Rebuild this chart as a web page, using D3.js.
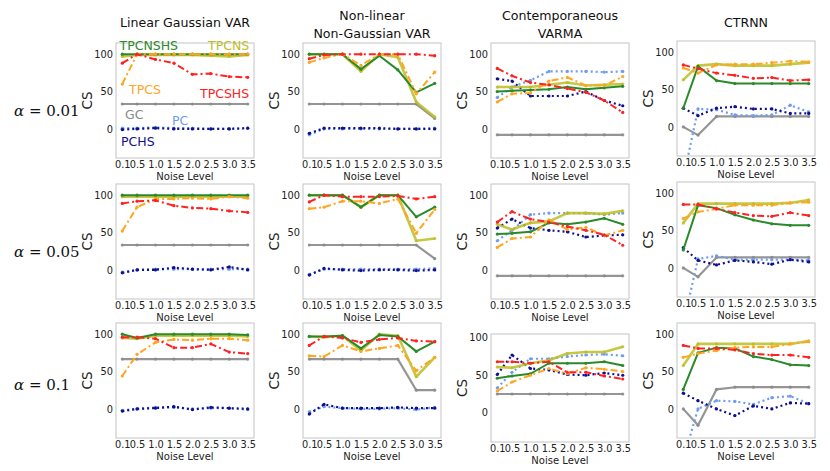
<!DOCTYPE html>
<html><head><meta charset="utf-8">
<script src="https://cdn.jsdelivr.net/npm/d3@7"></script>
<style>body{margin:0;background:#fff}svg{display:block}</style>
</head><body>
<script>
// ---------------- DATA ----------------
const noiseLevels = [0.1, 0.5, 1.0, 1.5, 2.0, 2.5, 3.0, 3.5];
const noiseTickLabels = ["0.1", "0.5", "1.0", "1.5", "2.0", "2.5", "3.0", "3.5"];
const datasetTitles = [["Linear Gaussian VAR"], ["Non-linear", "Non-Gaussian VAR"], ["Contemporaneous", "VARMA"], ["CTRNN"]];
const alphaLabels = ["0.01", "0.05", "0.1"];
const csTicks = [0, 50, 100];
const seriesNames = ["GC", "PC", "PCHS", "TPCNS", "TPCNSHS", "TPCS", "TPCSHS"];

// values per panel: rows = alpha (0.01, 0.05, 0.1), cols = dataset
const gcValues = [
  [[33.3,33.3,33.3,33.3,33.3,33.3,33.3,33.3],[33.3,33.3,33.3,33.3,33.3,33.3,33.3,14],[-8,-8,-8,-8,-8,-8,-8,-8],[0,-11,14,14,14,14,14,14]],
  [[33.3,33.3,33.3,33.3,33.3,33.3,33.3,33.3],[33.3,33.3,33.3,33.3,33.3,33.3,33.3,15],[-8,-8,-8,-8,-8,-8,-8,-8],[0,-12,14,14,14,14,14,14]],
  [[66.7,66.7,66.7,66.7,66.7,66.7,66.7,66.7],[66.7,66.7,66.7,66.7,66.7,66.7,25,25],[25,25,25,25,25,25,25,25],[0,-22,26,29,29,29,29,29]]
];
const pcValues = [
  [[1,1,2,1,1,0,0,1],[-8,0,0,0,0,0,0,1],[42,56,65,77,77,77,76,77],[-70,24,23,16,15,16,29,20]],
  [[-3,0,1,1,1,1,1,1],[-6,1,1,1,1,1,1,2],[39,53,74,76,76,76,74,76],[-75,12,16,11,11,11,11,10]],
  [[-2,0,2,2,0,1,1,-1],[-4,3,1,0,0,1,-1,2],[33,54,72,72,75,77,78,76],[-68,0,11,10,6,15,17,7]]
];
const pchsValues = [
  [[-1,0,1,0,0,0,0,1],[-6,1,1,1,1,0,0,0],[67,64,44,44,44,50,38,31],[25,15,25,27,24,24,18,18]],
  [[-4,0,0,3,1,0,4,0],[-7,2,0,-1,0,0,-1,0],[56,68,56,53,51,44,46,47],[27,10,4,10,8,5,11,8]],
  [[-3,0,1,3,-1,2,1,0],[-7,6,1,1,1,2,1,1],[51,77,59,57,51,50,53,50],[21,11,0,-9,4,0,8,7]]
];
const tpcsValues = [
  [[60,100,100,100,100,100,100,100],[89,95,100,85,100,100,47,76],[36,47,48,64,69,58,58,70],[79,72,83,84,84,86,88,87]],
  [[52,84,95,95,96,95,98,96],[82,84,92,92,89,95,49,81],[30,42,44,67,54,57,46,53],[66,75,79,84,84,84,87,88]],
  [[44,73,89,93,92,94,94,92],[71,70,85,77,81,85,51,69],[29,41,50,59,52,60,58,55],[69,74,78,82,83,83,87,90]]
];
const tpcshsValues = [
  [[88,100,93,88,73,74,70,69],[94,99,100,100,100,100,100,98],[81,71,62,59,54,49,38,22],[83,78,72,69,65,66,62,63]],
  [[89,92,93,86,83,82,79,77],[91,100,98,98,98,99,95,98],[64,78,68,64,58,53,47,33],[85,85,79,74,70,69,74,70]],
  [[96,96,94,82,82,87,76,74],[85,97,95,89,93,95,91,90],[68,68,66,68,54,54,49,45],[85,81,81,79,74,72,72,69]]
];
const tpcnsValues = [
  [[97,99,99,99,99,98,97,99],[100,100,100,77,100,96,36,16],[56,56,56,59,62,58,59,60],[63,82,84,82,82,82,84,86]],
  [[98,98,98,98,98,98,98,98],[100,100,100,84,100,100,39,42],[61,54,63,65,76,76,75,79],[60,86,86,86,86,86,87,91]],
  [[95,94,98,98,98,98,98,97],[97,96,98,78,100,98,43,69],[61,60,66,70,79,81,81,88],[58,87,87,87,87,87,87,91]]
];
const tpcnshsValues = [
  [[100,100,100,100,100,100,100,100],[100,100,100,80,98,79,49,61],[50,51,52,53,56,53,55,57],[25,81,62,58,58,58,58,58]],
  [[100,100,100,100,100,100,100,100],[100,100,100,84,100,100,71,84],[48,49,51,63,61,64,69,61],[24,84,80,71,64,59,57,57]],
  [[100,95,100,100,100,100,100,99],[97,97,98,81,99,97,77,90],[46,49,52,66,66,66,68,63],[26,75,82,81,70,66,59,58]]
];

// ---------------- STYLE / LAYOUT ----------------
const seriesValues = {GC: gcValues, PC: pcValues, PCHS: pchsValues, TPCNS: tpcnsValues, TPCNSHS: tpcnshsValues, TPCS: tpcsValues, TPCSHS: tpcshsValues};
const styles = {
  GC:      {color: "#8a8a8a", width: 2.2, dash: null, op: 0.9},
  PC:      {color: "#6f9cf0", width: 2.2, dash: "2,3", op: 1},
  PCHS:    {color: "#10108f", width: 2.2, dash: "2,3", op: 1},
  TPCNS:   {color: "#bcbd22", width: 2.6, dash: null, op: 0.85},
  TPCNSHS: {color: "#2a8a2a", width: 2.0, dash: null, op: 1},
  TPCS:    {color: "#ffa51f", width: 2.0, dash: "7,3,2,3", op: 1},
  TPCSHS:  {color: "#ff2222", width: 2.0, dash: "7,3,2,3", op: 1}
};
const annot = [
  {n: "TPCNSHS", dx: 3.5, dy: 6.5}, {n: "TPCNS", dx: 92, dy: 6.5},
  {n: "TPCS", dx: 13, dy: 51}, {n: "TPCSHS", dx: 84, dy: 55},
  {n: "GC", dx: 9, dy: 75.5}, {n: "PC", dx: 56, dy: 81.5}, {n: "PCHS", dx: 5, dy: 103}
];
const colX = [116, 303, 491, 677];
const rowY = [43, 184, 323];
const W = 138;
const tickFont = 9.8;

const svg = d3.select("body").append("svg").attr("width", 830).attr("height", 471)
  .style("font-family", "'DejaVu Sans', sans-serif");

datasetTitles.forEach((lines, c) => {
  const cx = colX[c] + W / 2;
  const base = lines.length === 1 ? 27 : 20;
  lines.forEach((t, i) => svg.append("text").attr("x", cx).attr("y", base + i * 18.3)
    .attr("text-anchor", "middle").attr("font-size", 12.6).attr("fill", "#111").text(t));
});

const rowLabelY = [116, 257, 390];
alphaLabels.forEach((a, r) => {
  const t = svg.append("text").attr("x", 14).attr("y", rowLabelY[r])
    .attr("font-family", "'DejaVu Serif', serif").attr("font-size", 15).attr("fill", "#111");
  t.append("tspan").attr("font-style", "italic").text("α");
  t.append("tspan").text(" = " + a);
});

for (let r = 0; r < 3; r++) {
  for (let c = 0; c < 4; c++) {
    let top = rowY[r] + (c === 3 && r < 2 ? -2 : 0);
    let h = 115, ymax = 115;
    if (r === 2 && c === 2) { top = 334; h = 108; ymax = 105; }
    const left = colX[c];
    const x = d3.scaleLinear().domain([-0.07, 3.67]).range([left, left + W]);
    const y = d3.scaleLinear().domain([-39, ymax]).range([top + h, top]);
    const g = svg.append("g");
    const clipId = `clip-${r}-${c}`;
    g.append("clipPath").attr("id", clipId).append("rect")
      .attr("x", left).attr("y", top).attr("width", W).attr("height", h);

    const ax = d3.axisBottom(x).tickValues(noiseLevels).tickSize(0).tickPadding(3.5)
      .tickFormat((d, i) => noiseTickLabels[i]);
    const xg = g.append("g").attr("transform", `translate(0,${top + h})`).call(ax);
    xg.select(".domain").remove();
    xg.selectAll("text").attr("font-size", tickFont).attr("fill", "#222").attr("font-family", "'DejaVu Sans', sans-serif");
    const ay = d3.axisLeft(y).tickValues(csTicks).tickSize(0).tickPadding(3);
    const yg = g.append("g").attr("transform", `translate(${left},0)`).call(ay);
    yg.select(".domain").remove();
    yg.selectAll("text").attr("font-size", tickFont).attr("fill", "#222").attr("font-family", "'DejaVu Sans', sans-serif");

    g.append("text").attr("x", left + W / 2).attr("y", top + h + 21.5).attr("text-anchor", "middle")
      .attr("font-size", 10).attr("fill", "#222").text("Noise Level");
    g.append("text").attr("transform", `translate(${left - 24},${top + h / 2}) rotate(-90)`)
      .attr("text-anchor", "middle").attr("font-size", 13.5).attr("fill", "#222").text("CS");

    const plot = g.append("g").attr("clip-path", `url(#${clipId})`);
    const line = d3.line().x((d, i) => x(noiseLevels[i])).y(d => y(d));
    seriesNames.forEach(n => {
      const s = styles[n];
      const vals = seriesValues[n][r][c];
      plot.append("path").attr("d", line(vals)).attr("fill", "none")
        .attr("stroke", s.color).attr("stroke-width", s.width).attr("stroke-opacity", s.op)
        .attr("stroke-dasharray", s.dash).attr("stroke-linejoin", "round");
      plot.selectAll(null).data(vals).enter().append("circle")
        .attr("cx", (d, i) => x(noiseLevels[i])).attr("cy", d => y(d)).attr("r", 1.6)
        .attr("fill", s.color).attr("fill-opacity", s.op);
    });

    g.append("rect").attr("x", left).attr("y", top).attr("width", W).attr("height", h)
      .attr("fill", "none").attr("stroke", "#c4c4c4").attr("stroke-width", 1);

    if (r === 0 && c === 0) {
      annot.forEach(a => g.append("text").attr("x", left + a.dx).attr("y", top + a.dy)
        .attr("font-size", 12.5).attr("fill", styles[a.n].color).text(a.n));
    }
  }
}
</script>
</body></html>
